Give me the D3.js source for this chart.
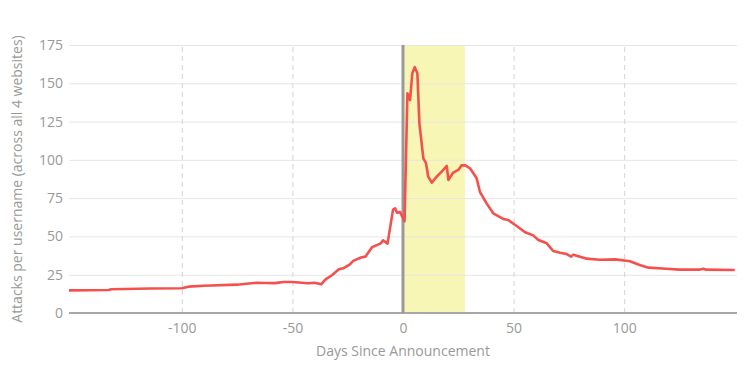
<!DOCTYPE html>
<html>
<head>
<meta charset="utf-8">
<script src="https://cdn.jsdelivr.net/npm/d3@7"></script>
<style>
  body { margin: 0; background: #fff; }
  text { font-family: "Open Sans", Lato, sans-serif; }
</style>
</head>
<body>
<div id="chart"></div>
<script>
// days relative to the announcement, and attacks per username
const days = [-151, -133, -132, -114, -100, -97, -90, -75, -66, -62, -58, -54, -50, -43, -40, -37,
  -35, -32, -29, -27, -24, -22.5, -19, -17, -14, -10, -9, -7, -4.5, -3.5, -2.7, -1.4, 0.7,
  2, 3.2, 4.2, 5.3, 6.5, 7.4, 9.2, 10.4, 11.4, 13, 15.2, 17.5, 19.8, 20.5, 22.7, 25, 26.5, 28,
  30.3, 33.3, 34.8, 37.8, 40.8, 45.3, 47.6, 51.4, 55.2, 58.9, 61.2, 65, 67.9, 71, 74, 76, 77,
  83, 89, 96, 102.6, 107, 111, 119, 125, 134, 135.8, 137, 150]
const attacks = [14.8, 15, 15.5, 16, 16.2, 17.2, 17.8, 18.5, 19.8, 19.6, 19.5, 20.2, 20.2, 19.4, 19.8, 18.7,
  22, 24.8, 28.5, 29.2, 31.8, 34, 36.2, 36.8, 43, 45.5, 47.5, 45.3, 67.5, 68.3, 65.5, 66, 60,
  143.5, 139, 156.5, 160.5, 156.5, 124, 101, 97.8, 89, 85.1, 89, 92.3, 96, 86.9, 91.7, 93.4, 96.4, 96.5,
  94.5, 88, 79, 71.6, 65.1, 61.4, 60.7, 56.8, 52.7, 50.7, 47.7, 45.5, 40.5, 39.4, 38.5, 36.8, 38.1,
  35.5, 34.8, 35, 33.8, 31.4, 29.6, 28.9, 28.3, 28.3, 28.9, 28.3, 28.1]

const yTicks = [0, 25, 50, 75, 100, 125, 150, 175]
const xTicks = [-100, -50, 0, 50, 100]
const highlight = [0, 28]   // shaded window after the announcement

const margin = {top: 45, right: 13, bottom: 62, left: 69}
const width = 750 - margin.left - margin.right
const height = 375 - margin.top - margin.bottom

const svg = d3.select("#chart").append("svg")
    .attr("width", 750)
    .attr("height", 375)
    .append("g")
    .attr("transform", "translate(" + margin.left + "," + margin.top + ")");

const x = d3.scaleLinear().domain([-151, 151]).range([0, width])
const y = d3.scaleLinear().domain([0, 175]).range([height, 0])

// highlighted window
svg.append("rect")
    .attr("x", x(highlight[0]))
    .attr("width", x(highlight[1]) - x(highlight[0]))
    .attr("y", 0)
    .attr("height", height)
    .style("fill", "#f8f6b4")

// horizontal grid
svg.append("g")
    .call(d3.axisLeft(y).tickValues(yTicks).tickSize(-width).tickPadding(6))
    .call(g => g.select(".domain").remove())
    .call(g => g.selectAll("line").attr("stroke", "#e6e6e6"))
    .call(g => g.selectAll("text").attr("fill", "#999").style("font-size", "14px"))

// vertical dashed grid + x labels
svg.append("g")
    .attr("transform", "translate(0," + height + ")")
    .call(d3.axisBottom(x).tickValues(xTicks).tickFormat(d => String(d)).tickSize(-height).tickPadding(10))
    .call(g => g.select(".domain").remove())
    .call(g => g.selectAll("line").attr("stroke", d => d === 0 ? "none" : "#d3d3d3").attr("stroke-dasharray", "5,4"))
    .call(g => g.selectAll("text").attr("fill", "#999").style("font-size", "14px"))

// zero baseline
svg.append("line")
    .attr("x1", 0).attr("x2", width)
    .attr("y1", y(0)).attr("y2", y(0))
    .attr("stroke", "#a8a8a8").attr("stroke-width", 2)

// announcement marker
svg.append("line")
    .attr("x1", x(0)).attr("x2", x(0))
    .attr("y1", 0).attr("y2", height)
    .attr("stroke", "#999").attr("stroke-width", 3)

const line = d3.line()
    .x((d, i) => x(days[i]))
    .y(d => y(d))

svg.append("path")
    .datum(attacks)
    .attr("d", line)
    .attr("fill", "none")
    .attr("stroke", "#f4504d")
    .attr("stroke-width", 2.6)
    .attr("stroke-linejoin", "round")

svg.append("text")
    .attr("x", x(0))
    .attr("y", height + 43)
    .attr("text-anchor", "middle")
    .attr("fill", "#999")
    .style("font-size", "14px")
    .text("Days Since Announcement")

svg.append("text")
    .attr("transform", "translate(" + (-47) + "," + (height / 2) + ") rotate(-90)")
    .attr("text-anchor", "middle")
    .attr("fill", "#999")
    .style("font-size", "14px")
    .text("Attacks per username (across all 4 websites)")
</script>
</body>
</html>
